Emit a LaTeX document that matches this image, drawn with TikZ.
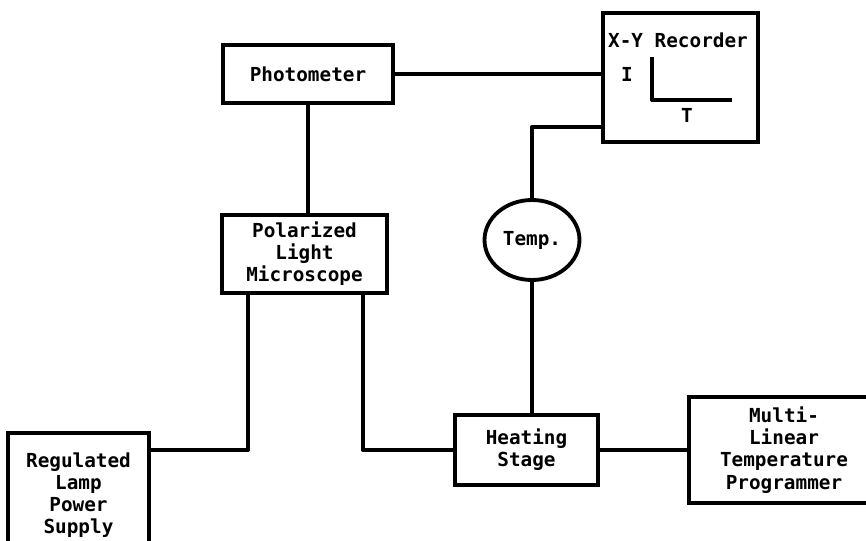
\documentclass[tikz,border=0pt]{standalone}
\usepackage{fontspec}
\setmonofont{DejaVu Sans Mono}
\usetikzlibrary{shapes.geometric,positioning}
\tikzset{
  blk/.style={draw, line width=2.2pt, align=center, inner sep=0pt,
    font=\ttfamily\bfseries\fontsize{11}{12.6}\selectfont},
  lbl/.style={font=\ttfamily\bfseries\fontsize{11}{12.6}\selectfont, inner sep=0pt},
  wire/.style={line width=2.2pt, line join=round}
}
\begin{document}
\begin{tikzpicture}[x=0.02cm, y=-0.02cm]
  \useasboundingbox (0,0) rectangle (866,541);
  % blocks, placed at pixel positions of the sketch
  \node[blk, minimum width=3.4cm, minimum height=1.16cm] (phot) at (308,74) {Photometer};
  \node[blk, minimum width=3.1cm, minimum height=2.58cm] (rec) at (680.5,77.5) {};
  \node[blk, minimum width=3.3cm, minimum height=1.56cm] (mic) at (304.5,254)
    {Polarized\\Light\\Microscope};
  \node[blk, ellipse, minimum width=1.9cm, minimum height=1.6cm] (temp) at (532,240) {Temp.};
  \node[blk, minimum width=2.86cm, minimum height=1.4cm] (heat) at (526.5,450) {Heating\\Stage};
  \node[blk, minimum width=2.82cm, minimum height=2.48cm] (lamp) at (78.5,495)
    {Regulated\\Lamp\\Power\\Supply};
  \node[blk, minimum height=2.12cm, text width=3.8cm] (prog) at (784,450)
    {Multi-\\Linear\\Temperature\\Programmer};
  % recorder face
  \node[lbl] (rectitle) at (678,40) {X-Y Recorder};
  \node[lbl] (axisI) at (627,74) {I};
  \node[lbl] (axisT) at (687,115) {T};
  \draw[wire] (652,57) -- (652,100) -- (732,100);
  % connections
  \draw[wire] (phot.east) -- (phot.east -| rec.west);
  \draw[wire] (phot.south) -- (phot.south |- mic.north);
  \draw[wire] ([xshift=0.56cm]mic.south west) |- (lamp.east |- heat.west);
  \draw[wire] ([xshift=-0.52cm]mic.south east) |- (heat.west);
  \draw[wire] (temp.south) -- (temp.south |- heat.north);
  \draw[wire] (temp.north) |- ([yshift=0.34cm]rec.south west);
  \draw[wire] (heat.east) -- (heat.east -| prog.west);
\end{tikzpicture}
\end{document}
